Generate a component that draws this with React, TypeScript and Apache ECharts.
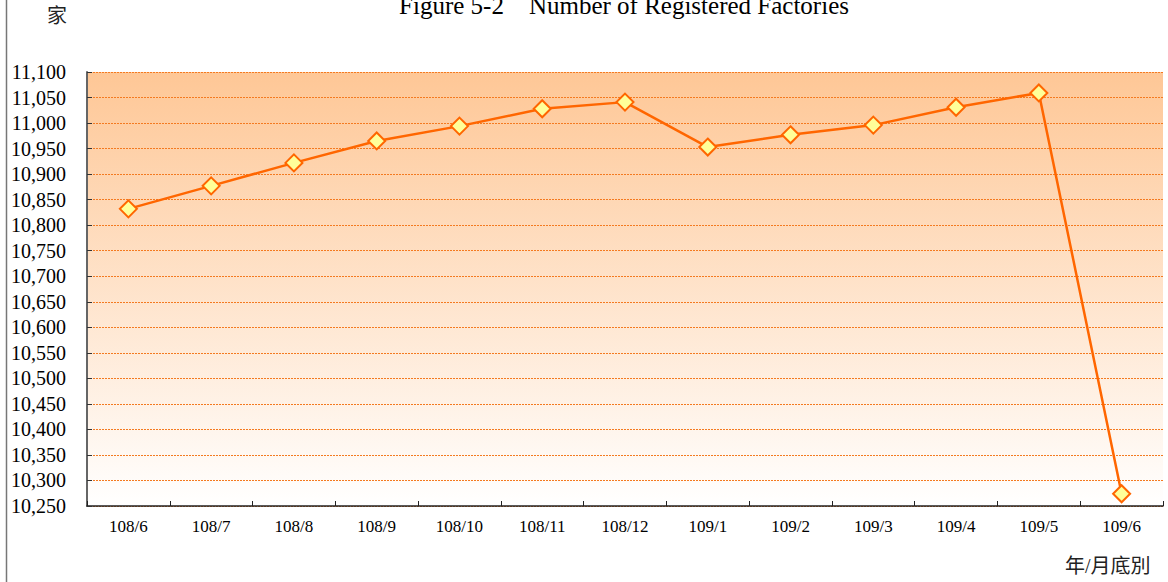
import React, { useEffect, useRef } from "react";
import * as echarts from "echarts";

const categories = ["108/6", "108/7", "108/8", "108/9", "108/10", "108/11", "108/12", "109/1", "109/2", "109/3", "109/4", "109/5", "109/6"];
const factoryCounts = [10832, 10877, 10922, 10965, 10994, 11028, 11041, 10953, 10977, 10996, 11031, 11059, 10274];
const yMin = 10250;
const yMax = 11100;
const yInterval = 50;

const serif = "'Liberation Serif', 'Noto Sans CJK TC', serif";
const cjk = "'Liberation Serif', 'Noto Sans CJK TC', serif";

export default function App() {
  const ref = useRef<HTMLDivElement>(null);
  useEffect(() => {
    document.body.style.margin = "0";
    const chart = echarts.init(ref.current!, undefined, { renderer: "svg" });
    chart.setOption({
      animation: false,
      backgroundColor: "#ffffff",
      title: {
        text: "Figure 5-2\u3000Number of Registered Factories",
        left: 619,
        textAlign: "center",
        top: -12,
        textStyle: { fontFamily: serif, fontSize: 25, fontWeight: "normal", color: "#000" },
      },
      graphic: [
        { type: "line", shape: { x1: 6.5, y1: 0, x2: 6.5, y2: 582 }, style: { stroke: "#777", lineWidth: 1.5 } },
        { type: "text", x: 47, y: 6, style: { text: "家", font: "20px " + cjk, fill: "#222" } },
        { type: "text", x: 1065, y: 556, style: { text: "年/月底別", font: "20px " + cjk, fill: "#222" } },
      ],
      grid: {
        left: 87,
        right: 5,
        top: 72,
        bottom: 76,
        show: true,
        borderWidth: 0,
        backgroundColor: new echarts.graphic.LinearGradient(0, 0, 0, 1, [
          { offset: 0, color: "#FEC796" },
          { offset: 1, color: "#FFFFFF" },
        ]),
      },
      xAxis: {
        type: "category",
        data: categories,
        boundaryGap: true,
        axisLine: { lineStyle: { color: "#222", width: 1.5 } },
        axisTick: { show: true, inside: true, length: 5, alignWithLabel: false, lineStyle: { color: "#222" } },
        axisLabel: { fontFamily: serif, fontSize: 17, color: "#000", margin: 12 },
        splitLine: { show: false },
      },
      yAxis: {
        type: "value",
        min: yMin,
        max: yMax,
        interval: yInterval,
        axisLine: { show: true, lineStyle: { color: "#666", width: 2 } },
        axisTick: { show: true, inside: true, length: 5, lineStyle: { color: "#333" } },
        axisLabel: {
          fontFamily: serif,
          fontSize: 20,
          color: "#000",
          margin: 21,
          formatter: (v: number) => v.toLocaleString("en-US"),
        },
        splitLine: { show: true, lineStyle: { color: "#F47A20", type: [2, 1], width: 1 } },
      },
      series: [
        {
          type: "line",
          data: factoryCounts,
          symbol: "diamond",
          symbolSize: 17,
          lineStyle: { color: "#FF6600", width: 2.5 },
          itemStyle: { color: "#FFFF99", borderColor: "#FF6600", borderWidth: 2 },
          z: 5,
        },
      ],
    });
    return () => chart.dispose();
  }, []);
  return <div ref={ref} style={{ width: 1168, height: 582 }} />;
}
